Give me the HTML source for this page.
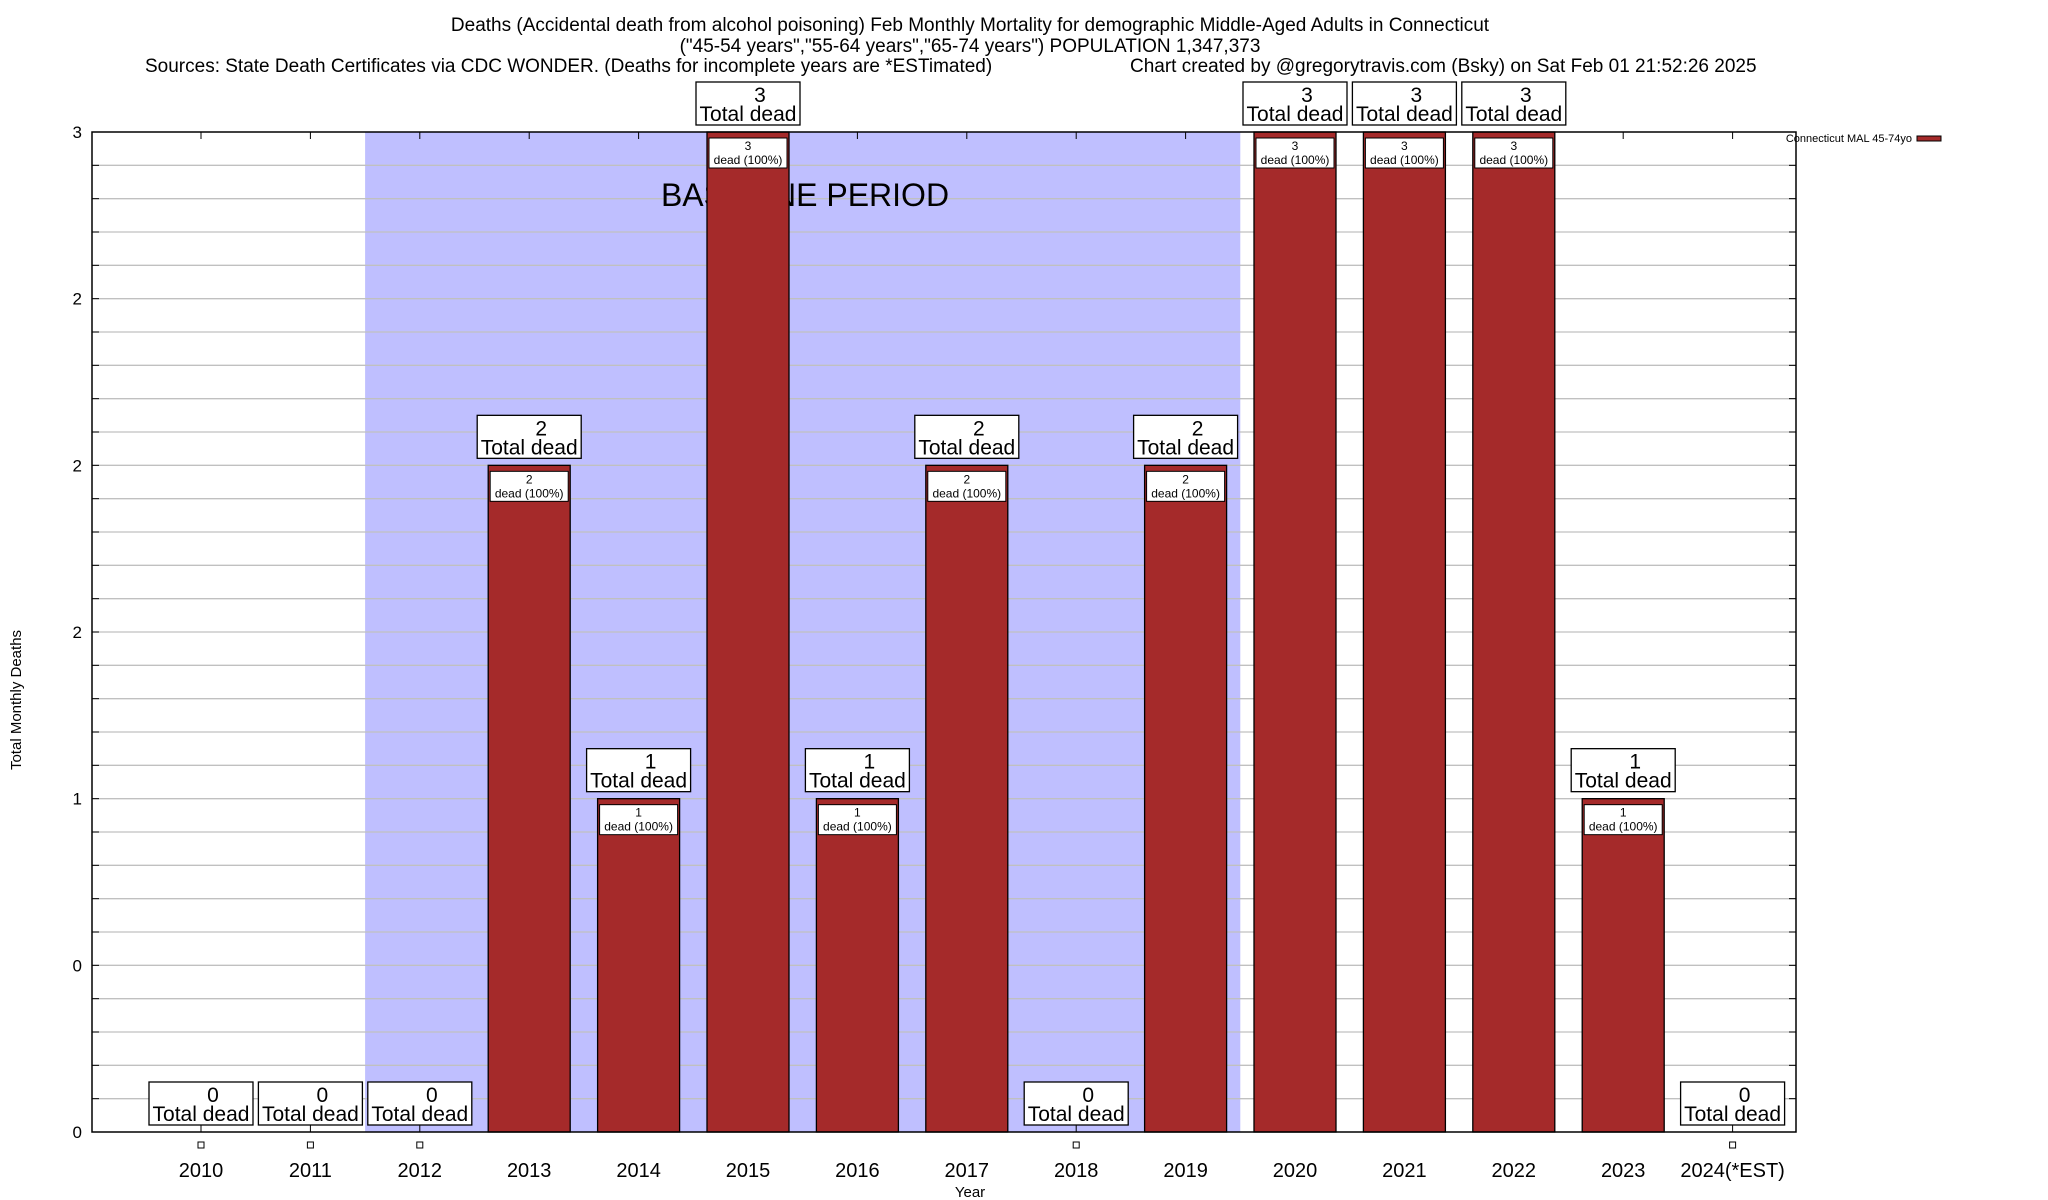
<!DOCTYPE html>
<html><head><meta charset="utf-8"><style>
body{margin:0;background:#fff;width:2048px;height:1200px;overflow:hidden}
svg{display:block;font-family:"Liberation Sans",sans-serif}
</style></head><body>
<svg id="chart" width="2048" height="1200">
<text x="970" y="31" font-size="19" text-anchor="middle">Deaths (Accidental death from alcohol poisoning) Feb Monthly Mortality for demographic Middle-Aged Adults in Connecticut</text>
<text x="970" y="52" font-size="19" text-anchor="middle">("45-54 years","55-64 years","65-74 years") POPULATION 1,347,373</text>
<text x="145" y="72" font-size="19">Sources: State Death Certificates via CDC WONDER. (Deaths for incomplete years are *ESTimated)</text>
<text x="1130" y="72" font-size="19">Chart created by @gregorytravis.com (Bsky) on Sat Feb 01 21:52:26 2025</text>
<text transform="translate(21,700) rotate(-90)" font-size="15" text-anchor="middle">Total Monthly Deaths</text>
<text x="970" y="1197" font-size="15" text-anchor="middle">Year</text>
<text x="1912" y="142" font-size="11" text-anchor="end">Connecticut MAL 45-74yo</text>
<rect x="1917" y="136" width="24" height="5" fill="#a52a2a" stroke="#000" stroke-width="1"/>
<g id="plot"></g>
</svg>
<script>
const years = ["2010","2011","2012","2013","2014","2015","2016","2017","2018","2019","2020","2021","2022","2023","2024(*EST)"];
const deaths = [0,0,0,2,1,3,1,2,0,2,3,3,3,1,0];
const yTickValues = [0,0.5,1,1.5,2,2.5,3];
const yTickLabels = ["0","0","1","2","2","2","3"];
const baselineStart = 2; const baselineEnd = 9;

const L=92,R=1796,T=132,B=1132,yMax=3;
const x0=201, step=109.4;
const xs=i=>x0+i*step;
const ys=v=>B-(v/yMax)*(B-T);
const NS="http://www.w3.org/2000/svg";
const g=document.getElementById('plot');
function mk(tag,attrs,parent){const e=document.createElementNS(NS,tag);for(const k in attrs)e.setAttribute(k,attrs[k]);(parent||g).appendChild(e);return e;}

// baseline shading
let sh=mk('rect',{x:(xs(baselineStart)+xs(baselineStart-1))/2,y:T,width:(xs(baselineEnd)+xs(baselineEnd+1))/2-(xs(baselineStart)+xs(baselineStart-1))/2,height:B-T,fill:'#bfbfff'});


// grid
for(let k=1;k<30;k++){const v=k*0.1;const y=ys(v);
 let gl=mk('line',{x1:L,x2:R,y1:y,y2:y,stroke:'#c0c0c0','stroke-width':1.3});
 
 
 mk('line',{x1:L,x2:L+7,y1:y,y2:y,stroke:'#000'});mk('line',{x1:R-7,x2:R,y1:y,y2:y,stroke:'#000'});}
yTickValues.forEach((v,i)=>{const y=ys(v);
 let t=mk('text',{x:82,y:y+6,'font-size':17,'text-anchor':'end'});t.textContent=yTickLabels[i];
 
 });
let bt=mk('text',{x:805,y:206,'font-size':32,'text-anchor':'middle'});bt.textContent='BASELINE PERIOD';


years.forEach((yr,i)=>{const cx=xs(i),v=deaths[i];
 mk('line',{x1:cx,x2:cx,y1:T,y2:T+7,stroke:'#000'});mk('line',{x1:cx,x2:cx,y1:B,y2:B-7,stroke:'#000'});
 if(v>0){const top=ys(v);
  let b=mk('rect',{x:cx-41,y:top,width:82,height:B-top,fill:'#a52a2a',stroke:'#000','stroke-width':1.3});
  
  
  let ib=mk('rect',{x:cx-39,y:top+6,width:78,height:30,fill:'#fff',stroke:'#000','stroke-width':1});
  
  
  let t1=mk('text',{x:cx,y:top+18,'font-size':12,'text-anchor':'middle'});t1.textContent=v;
  
  
  let t2=mk('text',{x:cx,y:top+32,'font-size':12,'text-anchor':'middle'});t2.textContent='dead (100%)';
  
  
 } else {
  let m=mk('rect',{x:cx-3,y:1142,width:6,height:6,fill:'#fff',stroke:'#000','stroke-width':1});
  
  
 }
 const top=ys(v);
 let box=mk('rect',{x:cx-52,y:top-50,width:104,height:43,fill:'#fff',stroke:'#000','stroke-width':1.3});
 
 
 let n=mk('text',{x:cx+12,y:top-30,'font-size':21,'text-anchor':'middle'});n.textContent=v;
 
 
 let td=mk('text',{x:cx,y:top-11,'font-size':21,'text-anchor':'middle'});td.textContent='Total dead';
 
 
 let xl=mk('text',{x:cx,y:1177,'font-size':20,'text-anchor':'middle'});xl.textContent=yr;
 
 
});
let fr=mk('rect',{x:L,y:T,width:R-L,height:B-T,fill:'none',stroke:'#000','stroke-width':1.5});


</script>
</body></html>
